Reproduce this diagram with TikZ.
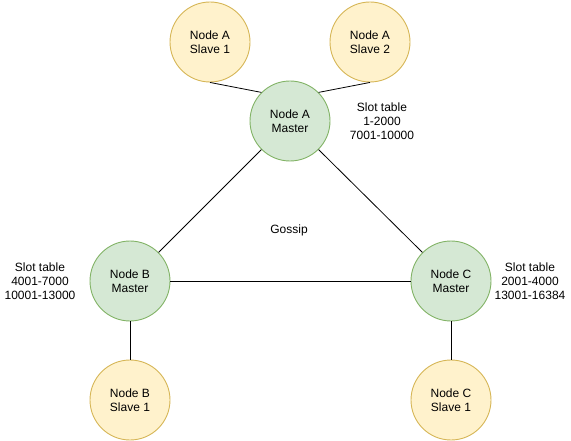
\documentclass[tikz,border=0pt]{standalone}
\usepackage{fontspec}
\setmainfont{Liberation Sans}
\definecolor{slavefill}{HTML}{FFF2CC}
\definecolor{slavedraw}{HTML}{D6B656}
\definecolor{masterfill}{HTML}{D5E8D4}
\definecolor{masterdraw}{HTML}{82B366}
\tikzset{
	slave/.style={circle,draw=slavedraw,fill=slavefill,line width=0.9pt,minimum size=80pt,inner sep=0pt,align=center,font=\fontsize{12}{14}\selectfont},
	master/.style={circle,draw=masterdraw,fill=masterfill,line width=0.9pt,minimum size=80pt,inner sep=0pt,align=center,font=\fontsize{12}{14}\selectfont},
	lbl/.style={align=center,font=\fontsize{12}{14}\selectfont},
	link/.style={line width=0.8pt}
}

\begin{document}
\begin{tikzpicture}[x=1pt,y=-1pt]
		\useasboundingbox (0,0) rectangle (571,441);

		% Masters
		\node[master] (am) at (290,121) {Node A\\Master};
		\node[master] (bm) at (130,281) {Node B\\Master};
		\node[master] (cm) at (451,281) {Node C\\Master};

		% Slaves
		\node[slave] (as1) at (210,42) {Node A\\Slave 1};
		\node[slave] (as2) at (370,42) {Node A\\Slave 2};
		\node[slave] (bs1) at (130,400) {Node B\\Slave 1};
		\node[slave] (cs1) at (451,400) {Node C\\Slave 1};

		% Links
		\draw[link] (as1.south) -- (am.135);
		\draw[link] (as2.south) -- (am.45);
		\draw[link] (am.225) -- (bm.45);
		\draw[link] (am.-45) -- (cm.135);
		\draw[link] (bm.east) -- (cm.west);
		\draw[link] (bm.south) -- (bs1.north);
		\draw[link] (cm.south) -- (cs1.north);

		% Labels
		\node[lbl] (ta) at (382,121) {Slot table\\1-2000\\7001-10000};
		\node[lbl] (tb) at (40,281) {Slot table\\4001-7000\\10001-13000};
		\node[lbl] (tc) at (530,281) {Slot table\\2001-4000\\13001-16384};
		\node[lbl] (gossip) at (289,230) {Gossip};
	\end{tikzpicture}
\end{document}
